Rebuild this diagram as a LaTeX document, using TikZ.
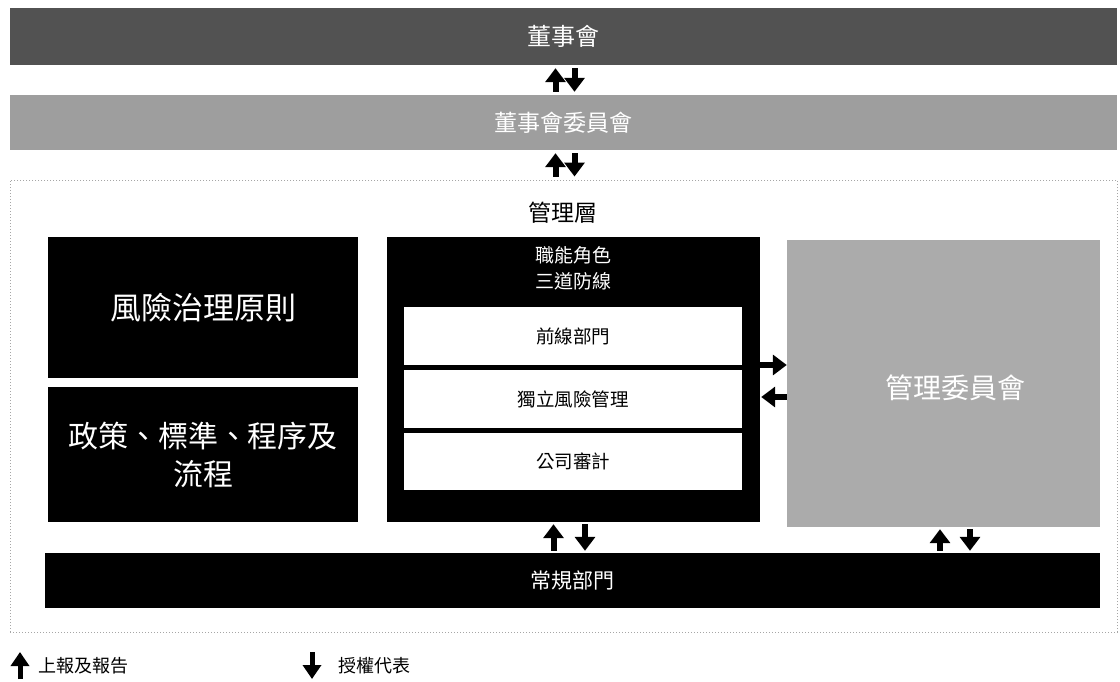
\documentclass[tikz,border=0pt]{standalone}
\usepackage{fontspec}
\setmainfont{Noto Sans CJK TC}
\usetikzlibrary{arrows.meta}
\begin{document}
\begin{tikzpicture}[x=1pt,y=-1pt,
  bar/.style={inner sep=0pt, text=white},
  blk/.style={fill=black, text=white, inner sep=0pt, align=center},
  wbox/.style={fill=white, inner sep=0pt, minimum width=338pt, font=\fontsize{18.5}{22}\selectfont},
  fat/.style={line width=6pt, -{Triangle[width=20pt,length=14pt]}},
  leg/.style={line width=5pt, -{Triangle[width=18pt,length=14pt]}},
]
\useasboundingbox (0,0) rectangle (1120,681);
\fill[white] (0,0) rectangle (1120,681);
% top bars
\node[bar, fill=black!68, minimum width=1107pt, minimum height=57pt, font=\fontsize{24}{28}\selectfont] (board) at (563.5,36.5) {董事會};
\node[bar, fill=black!38, minimum width=1107pt, minimum height=55pt, font=\fontsize{23}{28}\selectfont] (cmte) at (563.5,122.5) {董事會委員會};
% management layer frame
\node[draw=black!35, dotted, line width=1pt, minimum width=1107pt, minimum height=452pt, inner sep=0pt] (mgmt) at (563.5,406) {};
\node[font=\fontsize{23}{28}\selectfont, inner sep=0pt] (mgmtt) at (563,213) {管理層};
% left boxes
\node[blk, minimum width=310pt, minimum height=141pt, font=\fontsize{31}{36}\selectfont] (prin) at (203,307.5) {風險治理原則};
\node[blk, minimum width=310pt, minimum height=135pt, font=\fontsize{30}{38}\selectfont] (pol) at (203,454.5) {政策、標準、程序及\\流程};
% middle box
\node[blk, minimum width=373pt, minimum height=285pt] (mid) at (573.5,379.5) {};
\node[text=white, align=center, inner sep=0pt, font=\fontsize{19}{26}\selectfont] (midt) at (573,268) {職能角色\\三道防線};
\node[wbox, minimum height=58pt] (fl) at (573,336) {前線部門};
\node[wbox, minimum height=58pt] (irm) at (573,399) {獨立風險管理};
\node[wbox, minimum height=57pt] (aud) at (573,461.5) {公司審計};
% right box
\node[bar, fill=black!33, minimum width=313pt, minimum height=287pt] (mc) at (943.5,383.5) {};
\node[text=white, inner sep=0pt, font=\fontsize{28}{32}\selectfont] (mct) at (955,388) {管理委員會};
% bottom bar
\node[blk, minimum width=1055pt, minimum height=55pt, font=\fontsize{21}{26}\selectfont] (base) at (572.5,580.5) {常規部門};
% arrows
\draw[fat, shorten <=3pt, shorten >=3pt] ([xshift=-8pt]cmte.north) -- ([xshift=-8pt]board.south);
\draw[fat, shorten <=3pt, shorten >=3pt] ([xshift=11pt]board.south) -- ([xshift=11pt]cmte.north);
\draw[fat, shorten <=3pt, shorten >=3pt] ([xshift=-8pt]mgmt.north) -- ([xshift=-8pt]cmte.south);
\draw[fat, shorten <=3pt, shorten >=3pt] ([xshift=11pt]cmte.south) -- ([xshift=11pt]mgmt.north);
\draw[fat] ([yshift=14.5pt]mid.east) -- ([yshift=14.5pt]mid.east -| mc.west);
\draw[fat, shorten >=1pt] ([yshift=-17.5pt]mid.east -| mc.west) -- ([yshift=-17.5pt]mid.east);
\draw[fat, shorten <=2pt, shorten >=2pt] ([xshift=-20pt]mid.south |- base.north) -- ([xshift=-20pt]mid.south);
\draw[fat, shorten <=2pt, shorten >=2pt] ([xshift=11.5pt]mid.south) -- ([xshift=11.5pt]mid.south |- base.north);
\draw[fat, shorten <=2pt, shorten >=2pt] ([xshift=-3.5pt]mc.south |- base.north) -- ([xshift=-3.5pt]mc.south);
\draw[fat, shorten <=2pt, shorten >=2pt] ([xshift=26.5pt]mc.south) -- ([xshift=26.5pt]mc.south |- base.north);
% legend
\coordinate (l1a) at (20,679);
\coordinate (l1b) at (20,652);
\draw[leg] (l1a) -- (l1b);
\node[anchor=west, inner sep=0pt, font=\fontsize{18}{22}\selectfont] (l1t) at (38,666) {上報及報告};
\coordinate (l2a) at (312,652);
\coordinate (l2b) at (312,679);
\draw[leg] (l2a) -- (l2b);
\node[anchor=west, inner sep=0pt, font=\fontsize{18}{22}\selectfont] (l2t) at (338,666) {授權代表};
\end{tikzpicture}
\end{document}
